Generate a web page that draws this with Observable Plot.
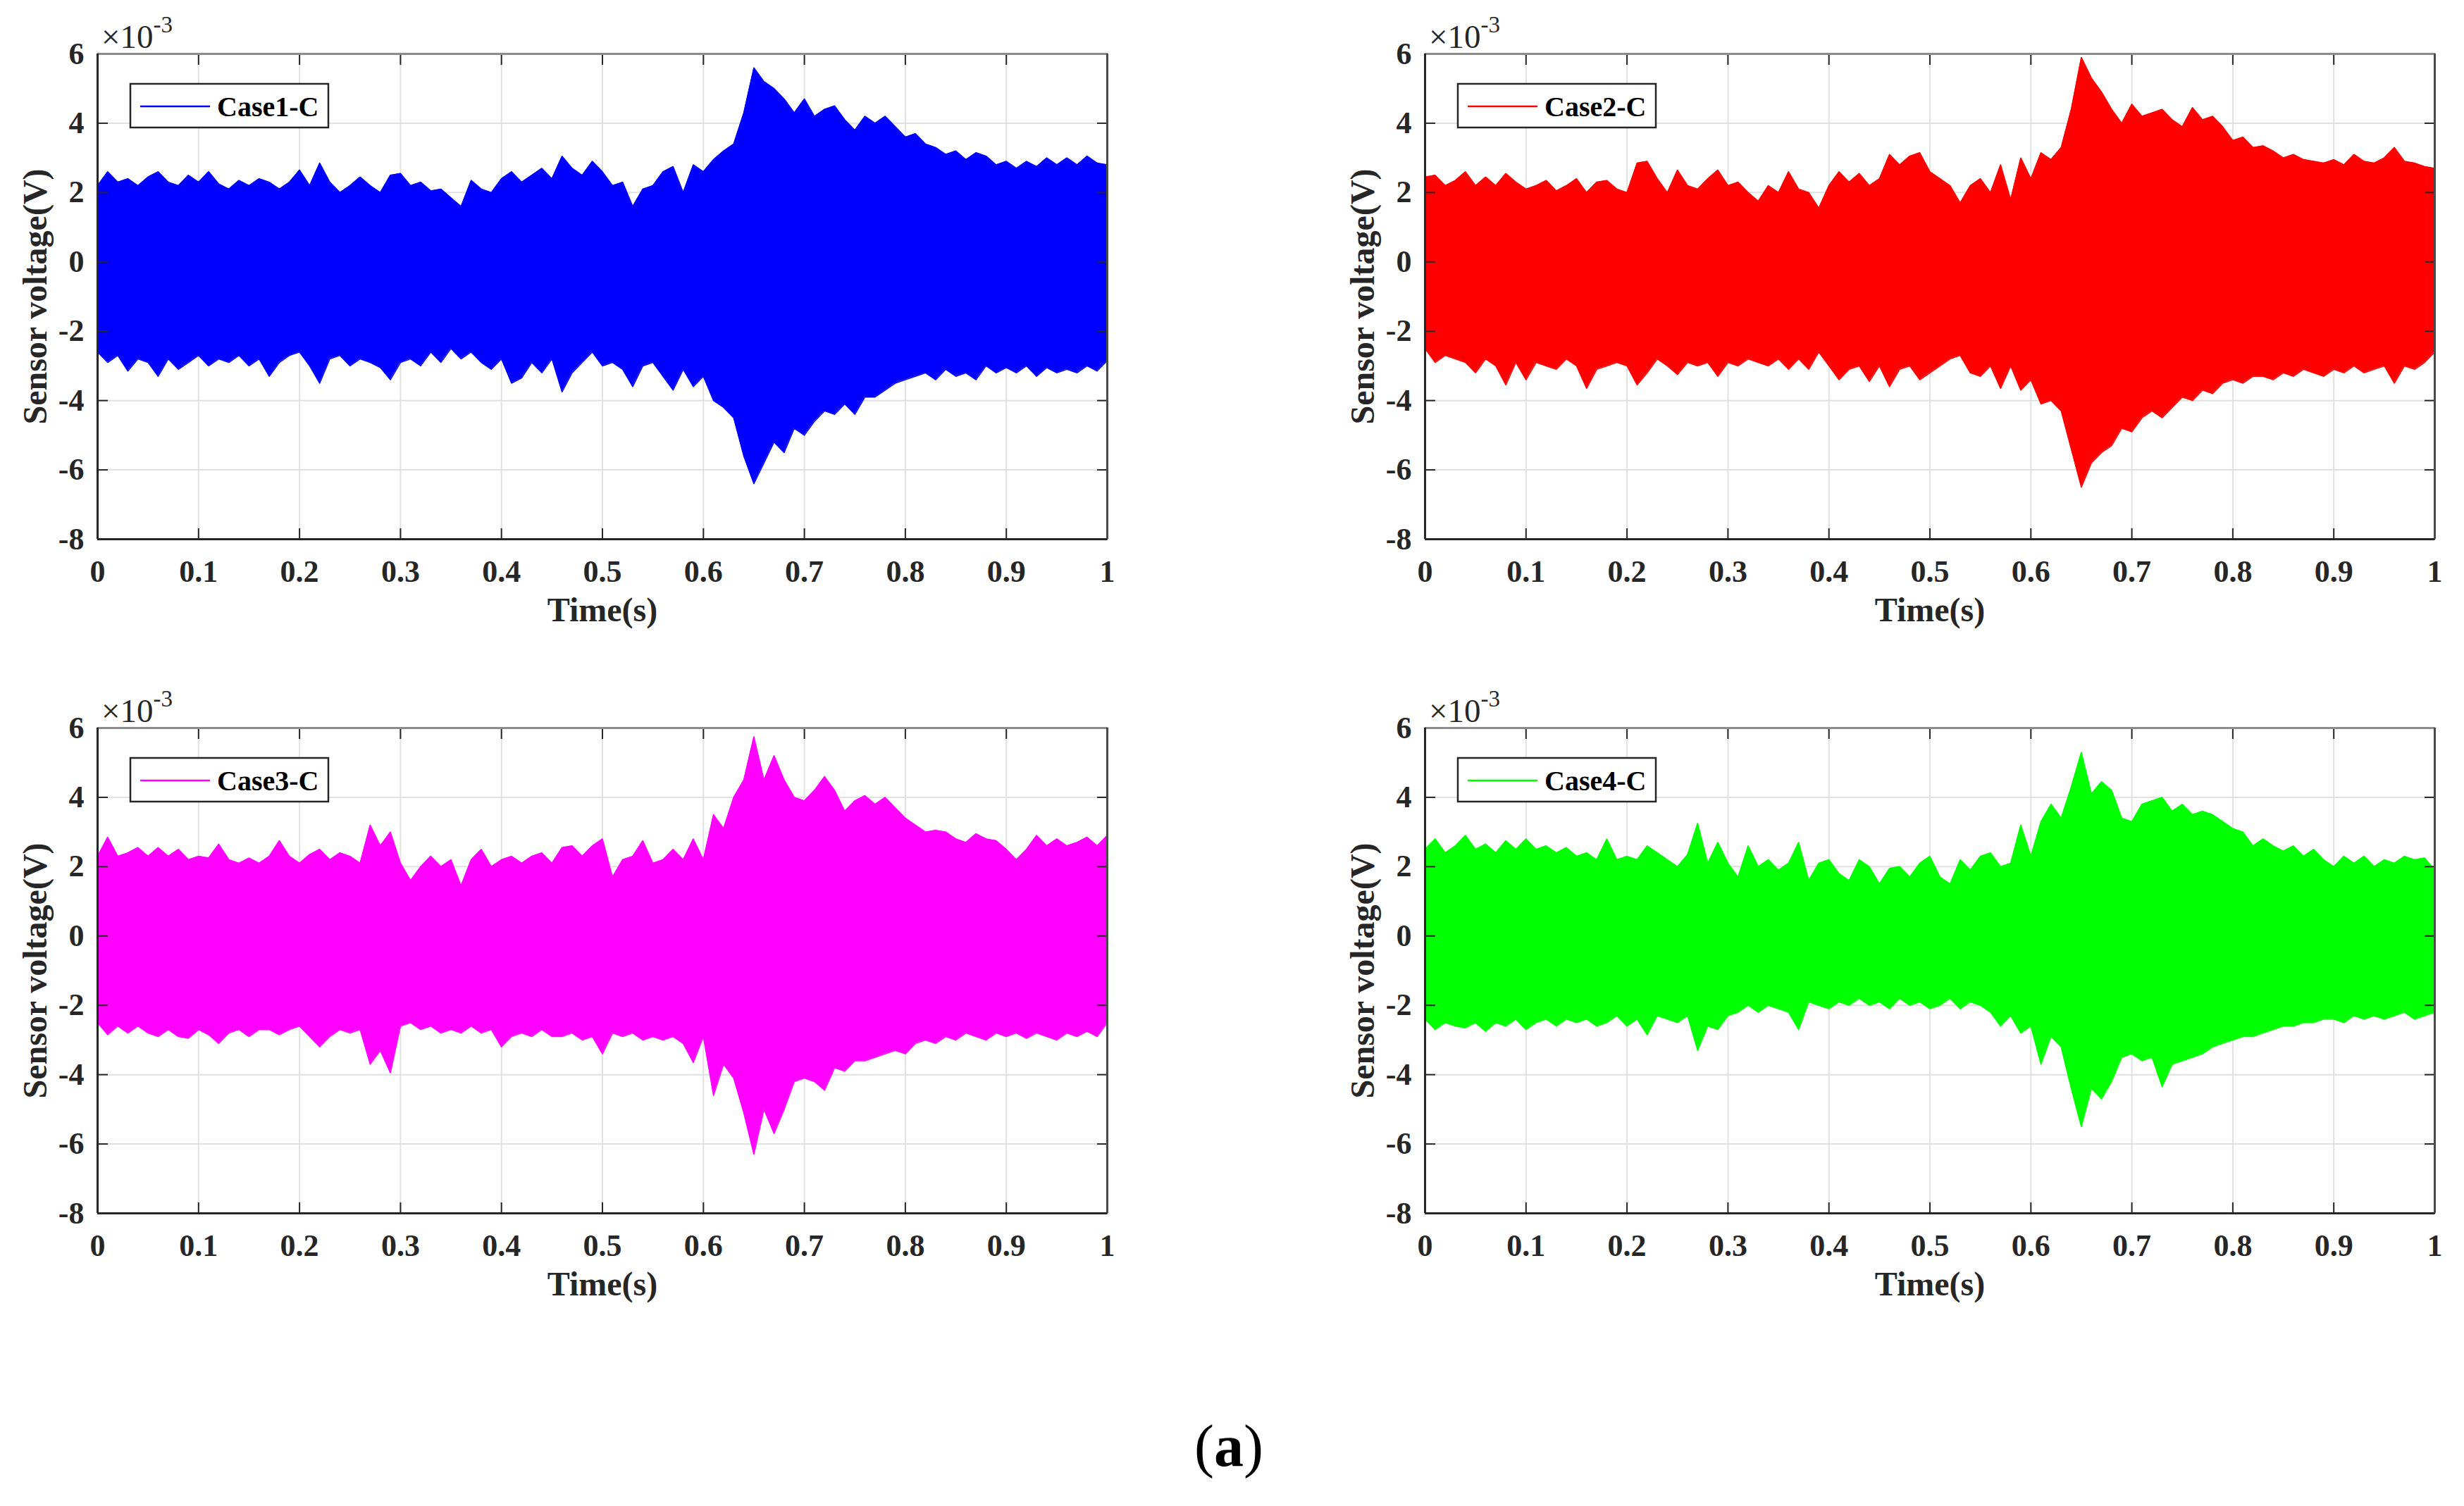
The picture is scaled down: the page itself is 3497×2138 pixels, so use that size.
<!DOCTYPE html>
<html><head><meta charset="utf-8">
<script src="https://cdn.jsdelivr.net/npm/d3@7"></script>
<script src="https://cdn.jsdelivr.net/npm/@observablehq/plot@0.6"></script>
<style>
html,body{margin:0;padding:0;background:#fff;}
#root{position:relative;width:3497px;height:2138px;overflow:hidden;background:#fff;}
.panel{position:absolute;}
</style></head><body><div id="root"></div>
<script>
const FONT = '"Liberation Serif", "Times New Roman", serif';
const caseNames = ["Case1-C", "Case2-C", "Case3-C", "Case4-C"];
const caseColors = ["#0000ff", "#ff0000", "#ff00ff", "#00ff00"];
const xTicks = [0, 0.1, 0.2, 0.3, 0.4, 0.5, 0.6, 0.7, 0.8, 0.9, 1];
const yTicks = [-8, -6, -4, -2, 0, 2, 4, 6];
const xDomain = [0, 1];
const yDomain = [-8, 6];
const xLabel = "Time(s)";
const yLabel = "Sensor voltage(V)";
const yExponent = "-3";
const captionLetter = "a";

// upper / lower signal envelopes (x10^-3 V), sampled every 0.01 s from 0 to 1 s
const case1Hi = [2.2,2.6,2.3,2.4,2.2,2.45,2.6,2.3,2.2,2.5, 2.3,2.6,2.25,2.1,2.35,2.2,2.4,2.3,2.1,2.3, 2.65,2.2,2.85,2.3,2.0,2.2,2.45,2.2,2.0,2.5, 2.55,2.2,2.3,2.05,2.1,1.85,1.6,2.35,2.1,2.0, 2.4,2.6,2.3,2.5,2.7,2.4,3.05,2.7,2.5,2.9, 2.6,2.2,2.3,1.6,2.1,2.2,2.6,2.75,2.0,2.8, 2.6,2.95,3.2,3.4,4.3,5.6,5.2,5.0,4.7,4.3, 4.7,4.2,4.4,4.5,4.1,3.8,4.2,4.0,4.2,3.9, 3.6,3.7,3.4,3.3,3.1,3.2,2.95,3.15,3.05,2.8, 2.9,2.7,2.9,2.75,3.0,2.8,3.0,2.8,3.05,2.85, 2.8];
const case1Lo = [-2.6,-2.9,-2.7,-3.15,-2.8,-2.9,-3.3,-2.8,-3.1,-2.9, -2.7,-3.0,-2.8,-2.9,-2.7,-3.0,-2.8,-3.3,-2.9,-2.7, -2.6,-3.0,-3.5,-2.8,-2.7,-3.0,-2.8,-2.9,-3.05,-3.4, -2.9,-2.8,-3.0,-2.6,-2.9,-2.5,-2.8,-2.6,-2.9,-3.1, -2.8,-3.5,-3.35,-2.9,-3.2,-2.8,-3.75,-3.2,-2.9,-2.6, -3.0,-2.9,-3.1,-3.6,-3.0,-2.9,-3.3,-3.7,-3.1,-3.6, -3.3,-4.0,-4.2,-4.5,-5.6,-6.4,-5.8,-5.2,-5.5,-4.8, -5.0,-4.6,-4.3,-4.4,-4.1,-4.4,-3.9,-3.9,-3.7,-3.5, -3.4,-3.3,-3.2,-3.4,-3.1,-3.3,-3.2,-3.4,-3.0,-3.2, -3.05,-3.2,-3.0,-3.3,-3.05,-3.2,-3.1,-3.2,-3.0,-3.15, -2.85];
const case2Hi = [2.45,2.5,2.2,2.35,2.6,2.2,2.45,2.2,2.55,2.3, 2.1,2.2,2.35,2.05,2.2,2.4,2.0,2.3,2.35,2.1, 2.0,2.85,2.9,2.4,2.0,2.65,2.2,2.1,2.4,2.65, 2.2,2.3,2.0,1.75,2.2,2.0,2.6,2.1,2.0,1.55, 2.2,2.6,2.3,2.55,2.2,2.4,3.1,2.8,3.05,3.15, 2.6,2.4,2.2,1.7,2.2,2.4,2.0,2.8,1.8,3.0, 2.4,3.15,2.95,3.3,4.4,5.9,5.3,4.9,4.4,4.0, 4.55,4.2,4.3,4.4,4.1,3.9,4.45,4.1,4.2,3.9, 3.5,3.6,3.3,3.35,3.2,3.0,3.1,2.95,2.9,2.85, 2.95,2.8,3.1,2.9,2.85,3.0,3.3,2.9,2.85,2.75, 2.7];
const case2Lo = [-2.5,-2.9,-2.7,-2.8,-2.9,-3.2,-2.8,-3.0,-3.55,-2.9, -3.4,-2.9,-3.0,-3.1,-2.8,-3.0,-3.65,-3.1,-3.0,-2.9, -3.0,-3.55,-3.2,-2.8,-3.0,-3.25,-2.9,-3.0,-2.9,-3.3, -2.9,-3.0,-2.8,-2.9,-3.0,-2.8,-3.1,-2.8,-3.1,-2.6, -3.0,-3.4,-3.1,-3.0,-3.45,-3.0,-3.6,-3.1,-3.0,-3.4, -3.2,-3.0,-2.8,-2.7,-3.2,-3.3,-3.0,-3.65,-3.0,-3.7, -3.4,-4.1,-4.0,-4.3,-5.4,-6.5,-5.8,-5.5,-5.3,-4.8, -4.9,-4.5,-4.3,-4.5,-4.2,-3.9,-4.0,-3.7,-3.8,-3.5, -3.4,-3.5,-3.3,-3.3,-3.4,-3.2,-3.3,-3.1,-3.2,-3.3, -3.1,-3.2,-3.0,-3.2,-3.1,-3.0,-3.5,-3.0,-3.1,-2.9, -2.6];
const case3Hi = [2.3,2.85,2.3,2.4,2.55,2.3,2.55,2.3,2.5,2.2, 2.3,2.25,2.65,2.2,2.1,2.25,2.1,2.3,2.75,2.3, 2.1,2.35,2.5,2.2,2.4,2.3,2.1,3.2,2.6,3.0, 2.1,1.6,2.0,2.3,2.0,2.2,1.45,2.2,2.5,2.0, 2.2,2.3,2.1,2.3,2.4,2.1,2.55,2.6,2.3,2.6, 2.8,1.7,2.2,2.3,2.75,2.1,2.2,2.5,2.2,2.8, 2.2,3.5,3.1,4.0,4.5,5.75,4.5,5.2,4.5,4.0, 3.9,4.2,4.6,4.2,3.6,3.9,4.05,3.8,4.0,3.7, 3.4,3.2,3.0,3.05,3.0,2.8,2.7,2.95,2.8,2.75, 2.5,2.2,2.5,2.9,2.6,2.8,2.6,2.7,2.85,2.6, 2.9];
const case3Lo = [-2.5,-2.85,-2.6,-2.8,-2.6,-2.8,-2.9,-2.7,-2.9,-2.95, -2.7,-2.85,-3.1,-2.8,-2.7,-2.9,-2.7,-2.7,-2.85,-2.7, -2.6,-2.9,-3.2,-2.9,-2.7,-2.8,-2.7,-3.7,-3.3,-3.95, -2.6,-2.5,-2.7,-2.6,-2.8,-2.7,-2.8,-2.6,-2.8,-2.7, -3.2,-2.9,-2.8,-2.9,-2.7,-2.9,-2.9,-2.8,-3.0,-2.9, -3.4,-2.8,-2.9,-2.8,-3.0,-2.9,-3.0,-2.9,-3.1,-3.65, -2.9,-4.6,-3.7,-4.1,-5.1,-6.3,-5.0,-5.7,-5.0,-4.2, -4.1,-4.2,-4.45,-3.8,-3.9,-3.6,-3.6,-3.5,-3.4,-3.3, -3.4,-3.1,-3.0,-3.1,-2.9,-3.0,-2.8,-2.9,-3.0,-2.8, -2.9,-2.8,-2.95,-2.8,-2.9,-3.0,-2.8,-2.9,-2.75,-2.9, -2.5];
const case4Hi = [2.5,2.8,2.4,2.6,2.9,2.5,2.65,2.4,2.75,2.5, 2.8,2.5,2.6,2.4,2.55,2.3,2.4,2.2,2.8,2.2, 2.3,2.2,2.6,2.4,2.2,2.0,2.35,3.25,2.1,2.7, 2.1,1.7,2.6,2.0,2.2,1.9,2.1,2.7,1.6,2.1, 2.2,1.8,1.6,2.2,2.0,1.5,1.95,2.0,1.7,2.1, 2.3,1.7,1.5,2.2,1.9,2.3,2.4,2.0,2.1,3.2, 2.3,3.3,3.8,3.4,4.3,5.3,4.1,4.45,4.2,3.4, 3.3,3.8,3.9,4.0,3.6,3.8,3.5,3.6,3.5,3.3, 3.1,3.0,2.6,2.8,2.6,2.45,2.6,2.3,2.5,2.2, 2.0,2.3,2.1,2.3,2.0,2.2,2.1,2.3,2.2,2.25, 1.9];
const case4Lo = [-2.4,-2.7,-2.5,-2.6,-2.65,-2.5,-2.75,-2.5,-2.6,-2.4, -2.7,-2.5,-2.4,-2.6,-2.4,-2.5,-2.4,-2.6,-2.5,-2.3, -2.6,-2.4,-2.85,-2.3,-2.4,-2.5,-2.3,-3.3,-2.6,-2.7, -2.3,-2.2,-2.0,-2.2,-2.0,-2.1,-2.2,-2.7,-1.9,-2.0, -2.1,-1.9,-2.0,-1.8,-2.0,-1.9,-2.1,-1.8,-2.0,-1.9, -2.1,-2.0,-1.8,-2.1,-1.9,-2.0,-2.2,-2.6,-2.3,-2.8, -2.6,-3.7,-2.9,-3.2,-4.4,-5.5,-4.4,-4.7,-4.2,-3.5, -3.4,-3.6,-3.5,-4.35,-3.7,-3.6,-3.5,-3.4,-3.2,-3.1, -3.0,-2.9,-2.9,-2.8,-2.7,-2.6,-2.6,-2.5,-2.5,-2.4, -2.4,-2.5,-2.3,-2.4,-2.3,-2.4,-2.3,-2.2,-2.4,-2.3, -2.2];

const highs = [case1Hi, case2Hi, case3Hi, case4Hi];
const lows = [case1Lo, case2Lo, case3Lo, case4Lo];

// layout
const W = 1611, H = 925, ML = 138, MT = 76, MR = 40, MB = 160;
const positions = [[0, 0], [1884, 0], [0, 957], [1884, 957]];
const INK = "#262626";

const root = document.getElementById("root");

function makePanel(k) {
  const color = caseColors[k];
  const hi = highs[k], lo = lows[k];
  const rows = hi.map((h, i) => ({t: i / (hi.length - 1), hi: h, lo: lo[i]}));
  const fmtY = d => d < 0 ? "-" + Math.abs(d) : String(d);
  const textAxis = {fontSize: 44, fontWeight: "bold", fill: INK, stroke: "none", label: null};
  const tickAxis = {tickSize: -15, fill: "none", stroke: INK, strokeWidth: 2, label: null};
  const svg = Plot.plot({
    width: W, height: H,
    marginLeft: ML, marginRight: MR, marginTop: MT, marginBottom: MB,
    style: {fontFamily: FONT, background: "transparent", overflow: "visible"},
    x: {domain: xDomain, ticks: xTicks, label: null},
    y: {domain: yDomain, ticks: yTicks, label: null},
    marks: [
      Plot.gridX(xTicks, {stroke: "#e1e1e1", strokeOpacity: 1, strokeWidth: 2}),
      Plot.gridY(yTicks, {stroke: "#e1e1e1", strokeOpacity: 1, strokeWidth: 2}),
      Plot.areaY(rows, {x: "t", y1: "lo", y2: "hi", fill: color, curve: "linear"}),
      Plot.lineY(rows, {x: "t", y: "hi", stroke: color, strokeWidth: 1.5}),
      Plot.lineY(rows, {x: "t", y: "lo", stroke: color, strokeWidth: 1.5}),
      Plot.axisX(xTicks, {anchor: "bottom", tickSize: 0, tickPadding: 29, tickFormat: d => String(d), ...textAxis}),
      Plot.axisY(yTicks, {anchor: "left", tickSize: 0, tickPadding: 19, tickFormat: fmtY, ...textAxis}),
      Plot.axisX(xTicks, {anchor: "bottom", ...tickAxis}),
      Plot.axisX(xTicks, {anchor: "top", ...tickAxis}),
      Plot.axisY(yTicks, {anchor: "left", ...tickAxis}),
      Plot.axisY(yTicks, {anchor: "right", ...tickAxis}),
      Plot.ruleY([yDomain[1]], {stroke: "#8c8c8c", strokeWidth: 3}),
      Plot.ruleX([xDomain[1]], {stroke: "#4a4a4a", strokeWidth: 3}),
      Plot.ruleY([yDomain[0]], {stroke: INK, strokeWidth: 3}),
      Plot.ruleX([xDomain[0]], {stroke: INK, strokeWidth: 3}),
      Plot.text([xLabel], {text: d => d, frameAnchor: "bottom", dy: 101, textAnchor: "middle", lineAnchor: "middle", fontSize: 48, fontWeight: "bold", fill: INK}),
      Plot.text([yLabel], {text: d => d, frameAnchor: "left", dx: -88, rotate: -90, textAnchor: "middle", lineAnchor: "middle", fontSize: 48, fontWeight: "bold", fill: INK})
    ]
  });
  const s = d3.select(svg);
  const g = s.append("g").attr("font-family", FONT).attr("text-anchor", "start");
  // legend
  g.append("rect").attr("x", ML + 47).attr("y", MT + 43).attr("width", 281).attr("height", 62)
    .attr("fill", "#fff").attr("stroke", INK).attr("stroke-width", 2.5);
  g.append("line").attr("x1", ML + 61).attr("x2", ML + 160).attr("y1", MT + 75).attr("y2", MT + 75)
    .attr("stroke", color).attr("stroke-width", 2.5);
  g.append("text").attr("x", ML + 170).attr("y", MT + 89).attr("font-size", 40).attr("font-weight", "bold")
    .attr("text-anchor", "start").attr("fill", "#000").text(caseNames[k]);
  // exponent label
  const ex = g.append("text").attr("x", ML + 6).attr("y", MT - 8).attr("font-size", 47)
    .attr("text-anchor", "start").attr("fill", INK);
  ex.append("tspan").text("\u00d710");
  ex.append("tspan").attr("dy", -22).attr("font-size", 33).text(yExponent);

  const div = document.createElement("div");
  div.className = "panel";
  div.style.left = positions[k][0] + "px";
  div.style.top = positions[k][1] + "px";
  div.style.width = W + "px";
  div.style.height = H + "px";
  div.appendChild(svg);
  root.appendChild(div);
}

for (let k = 0; k < caseNames.length; k++) makePanel(k);

// caption
const cap = d3.select(root).append("svg").attr("width", 3497).attr("height", 2138)
  .style("position", "absolute").style("left", "0px").style("top", "0px").style("pointer-events", "none");
const ct = cap.append("text").attr("x", 1744).attr("y", 2081).attr("text-anchor", "middle")
  .attr("font-family", FONT).attr("font-size", 84).attr("fill", "#000");
ct.append("tspan").text("(");
ct.append("tspan").attr("font-weight", "bold").text(captionLetter);
ct.append("tspan").text(")");
</script>
</body></html>
